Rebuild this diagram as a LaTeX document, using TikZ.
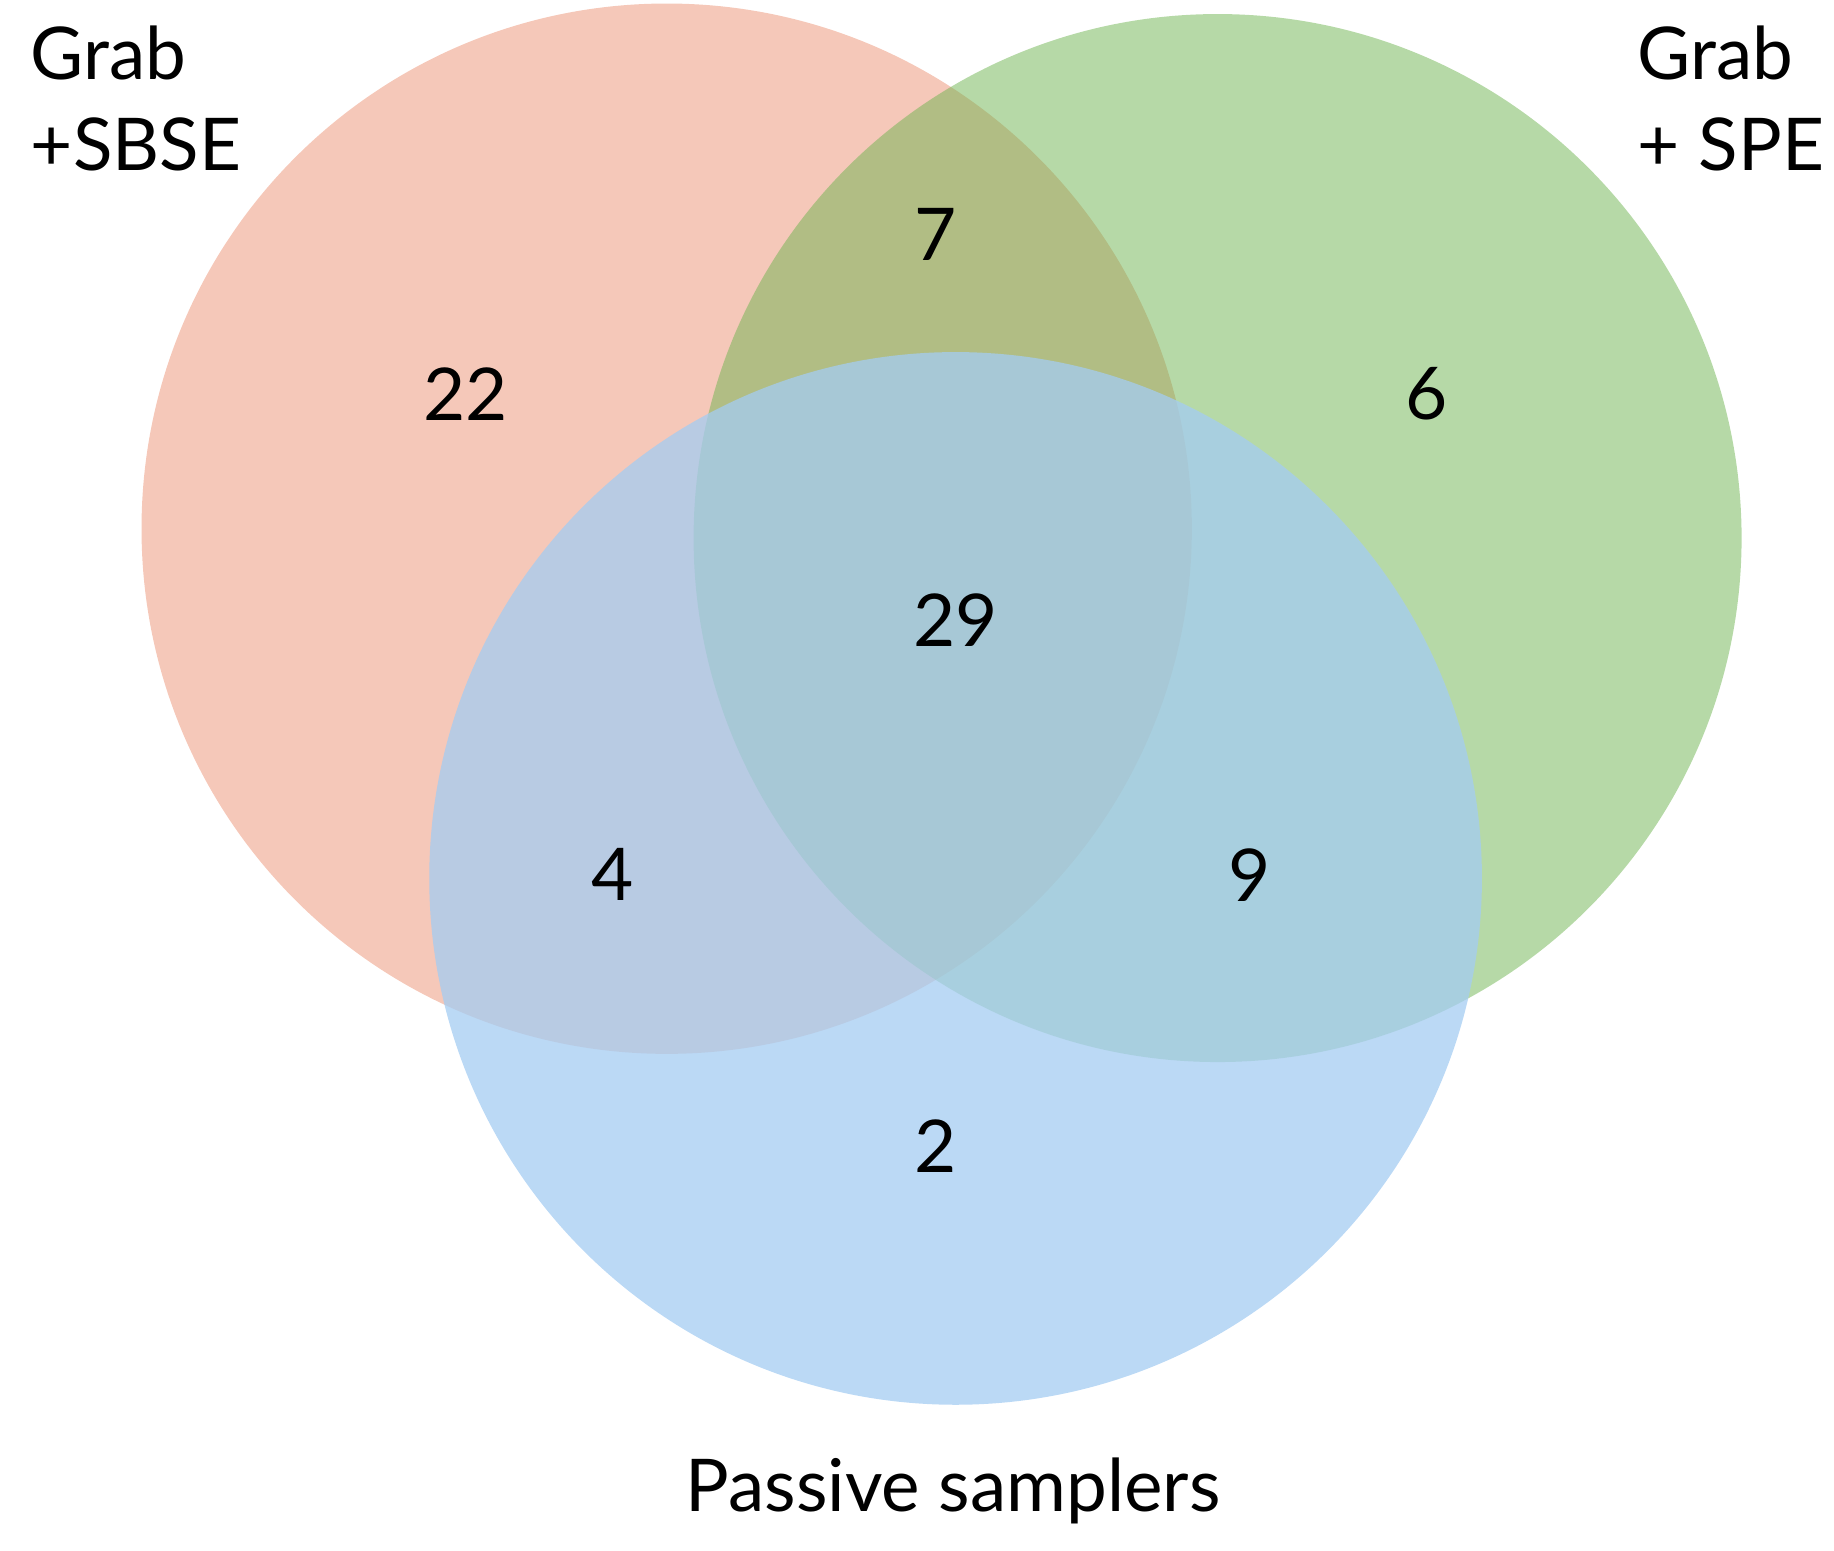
\documentclass[tikz,border=0pt]{standalone}
\usepackage{fontspec}
\setmainfont{Lato}
\definecolor{sbsered}{RGB}{235,145,115}
\definecolor{spegreen}{RGB}{110,180,80}
\definecolor{passblue}{RGB}{164,204,242}
\tikzset{
  set/.style={fill opacity=0.5, draw=none},
  count/.style={font=\fontsize{17.7}{21}\selectfont},
  title/.style={font=\fontsize{17.7}{22}\selectfont, align=left}
}
\begin{document}
\begin{tikzpicture}[x=0.01cm,y=-0.01cm]
\useasboundingbox (0,0) rectangle (1568,1326);
      % the three sets
      \fill[set,sbsered] (570,452) circle (449);
      \fill[set,spegreen] (1041,460) circle (448);
      \fill[set,passblue,fill opacity=0.75] (817,751) circle (450);

      % set titles
      \node[title,anchor=north west] (tsbse) at (14,10) {Grab\\+SBSE};
      \node[title,anchor=north west] (tspe) at (1388,10) {Grab\\+ SPE};
      \node[title] (tpass) at (815,1275) {Passive samplers};

      % counts
      \node[count] (n22) at (398,337) {22};
      \node[count] (n7) at (800,200) {7};
      \node[count] (n6) at (1220,337) {6};
      \node[count] (n29) at (817,530) {29};
      \node[count] (n4) at (524,748) {4};
      \node[count] (n9) at (1068,748) {9};
      \node[count] (n2) at (800,980) {2};
\end{tikzpicture}
\end{document}
